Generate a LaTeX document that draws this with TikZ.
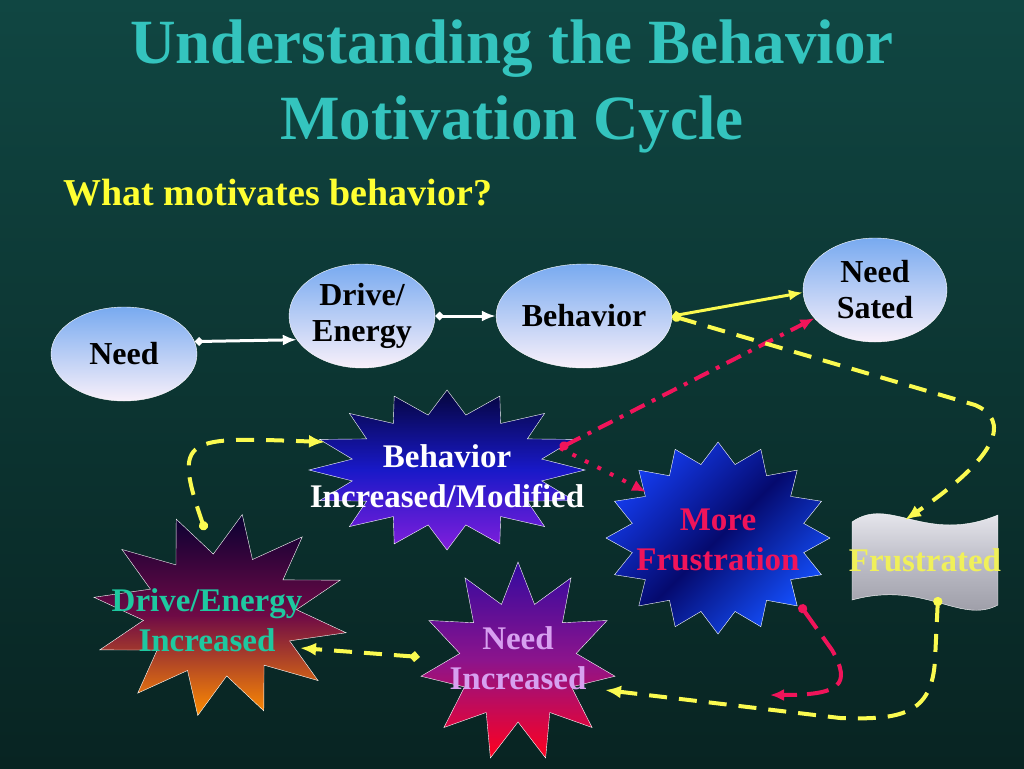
\documentclass[tikz,border=0pt]{standalone}
\usepackage{fontspec}
\setmainfont{Liberation Serif}
\usetikzlibrary{shapes.geometric,arrows.meta}
\definecolor{titlecol}{RGB}{52,196,190}
\definecolor{subcol}{RGB}{255,255,50}
\definecolor{arrowyel}{RGB}{250,250,80}
\definecolor{arrowpink}{RGB}{240,20,90}
\definecolor{detext}{RGB}{30,200,160}
\definecolor{nitext}{RGB}{215,160,240}
\definecolor{frtext}{RGB}{240,240,90}
\tikzset{
  cloud/.style={ellipse, draw=white, thin, top color={rgb,255:red,120;green,170;blue,240}, bottom color={rgb,255:red,248;green,240;blue,250}, font=\fontsize{32}{36}\selectfont\bfseries, align=center, inner sep=0pt},
  burst/.style={font=\fontsize{33}{40}\selectfont\bfseries, align=center},
  solidarr/.style={line width=3pt, {Diamond[length=9pt,width=9pt]}-{Latex[length=14pt,width=11pt]}},
  dasharr/.style={arrowyel, line width=4pt, dash pattern=on 18pt off 12pt, {Circle[length=9pt]}-{Latex[length=16pt,width=13pt]}}
}
% star outline: cx, cy, rx, ry, points, inner ratio, rotation, fill options
\newcommand{\starburst}[8]{%
  \path[draw=white, thin, #8] plot[samples at={0,...,\numexpr2*#5-1\relax}]
    ({#1+#3*(mod(\x,2)==0?1:#6)*cos(#7+180*\x/#5)},{#2+#4*(mod(\x,2)==0?1:#6)*sin(#7+180*\x/#5)}) -- cycle;}
\begin{document}
\begin{tikzpicture}[x=1pt,y=-1pt]

%background
\shade[top color={rgb,255:red,16;green,70;blue,66}, bottom color={rgb,255:red,8;green,36;blue,34}] (0,0) rectangle (1024,768);
\useasboundingbox (0,0) rectangle (1024,768);

%titles
\node[titlecol, font=\fontsize{63}{76}\selectfont\bfseries, align=center] (title) at (512,86) {Understanding the Behavior\\Motivation Cycle};
\node[subcol, font=\fontsize{38}{40}\selectfont\bfseries, anchor=west] (sub) at (60,193) {What motivates behavior?};

%ellipses
\node[cloud, minimum width=146, minimum height=94] (need) at (124,354) {Need};
\node[cloud, minimum width=146, minimum height=104] (drive) at (362,316) {Drive/\\Energy};
\node[cloud, minimum width=150, minimum height=104] (beh) at (584,316) {Behavior};
\node[cloud, minimum width=144, minimum height=104] (sated) at (875,290) {Need\\Sated};

%starbursts
\starburst{447}{470}{138}{80}{16}{0.7}{0}{top color={rgb,255:red,5;green,5;blue,60}, bottom color={rgb,255:red,130;green,30;blue,220}, middle color={rgb,255:red,25;green,25;blue,200}}
\starburst{718}{538}{112}{96}{16}{0.78}{0}{left color={rgb,255:red,20;green,60;blue,240}, right color={rgb,255:red,20;green,80;blue,255}, middle color={rgb,255:red,5;green,10;blue,110}, shading angle=45}
\starburst{220}{615}{128}{102}{12}{0.6}{10}{top color={rgb,255:red,10;green,0;blue,50}, bottom color={rgb,255:red,255;green,140;blue,0}, middle color={rgb,255:red,110;green,10;blue,70}}
\starburst{518}{662}{98}{100}{11}{0.6}{-90}{top color={rgb,255:red,50;green,10;blue,160}, bottom color={rgb,255:red,255;green,0;blue,30}, middle color={rgb,255:red,140;green,20;blue,140}}

%frustrated banner
\path[draw=white, thin, top color={rgb,255:red,245;green,245;blue,250}, bottom color={rgb,255:red,150;green,150;blue,160}, middle color={rgb,255:red,190;green,190;blue,200}]
  (852,522) .. controls (890,495) and (925,545) .. (998,515) -- (998,605) .. controls (960,625) and (925,580) .. (852,600) -- cycle;

%burst texts
\node[burst, white] (bi) at (447,476) {Behavior\\Increased/Modified};
\node[burst, arrowpink] (mf) at (718,540) {More\\Frustration};
\node[burst, detext] (de) at (207,620) {Drive/Energy\\Increased};
\node[burst, nitext] (ni) at (518,658) {Need\\Increased};
\node[burst, frtext] (fr) at (925,560) {Frustrated};

%solid arrows
\draw[solidarr, white] (need.10) -- (drive.200);
\draw[solidarr, white] (drive.east) -- (beh.west);
\draw[solidarr, arrowyel] (beh.east) -- (sated.182);

%pink arrows
\coordinate (pk) at (560,448);
\draw[arrowpink, line width=4pt, dash pattern=on 16pt off 8pt on 4pt off 8pt, {Circle[length=9pt]}-{Latex[length=14pt,width=12pt]}] (pk) -- (sated.205);
\draw[arrowpink, line width=4pt, dash pattern=on 4pt off 10pt, -{Latex[length=14pt,width=12pt]}] (pk) -- (646,492);
\coordinate (mfb) at (800,605);
\draw[arrowpink, line width=4pt, dash pattern=on 22pt off 10pt, {Circle[length=9pt]}-{Latex[length=14pt,width=12pt]}] (mfb) -- (832,650) .. controls (852,685) and (840,695) .. (770,695);

%yellow dashed arrows
\draw[dasharr] (beh.east) -- (975,405) .. controls (1010,420) and (1000,455) .. (905,520);
\draw[dasharr] (938,597) -- (935,660) .. controls (932,715) and (900,720) .. (840,718) -- (605,690);
\draw[dasharr] (205,530) .. controls (172,435) and (185,437) .. (325,442);
\draw[dasharr, {Diamond[length=11pt,width=11pt]}-{Latex[length=16pt,width=13pt]}] (420,657) -- (300,648);
\end{tikzpicture}
\end{document}
